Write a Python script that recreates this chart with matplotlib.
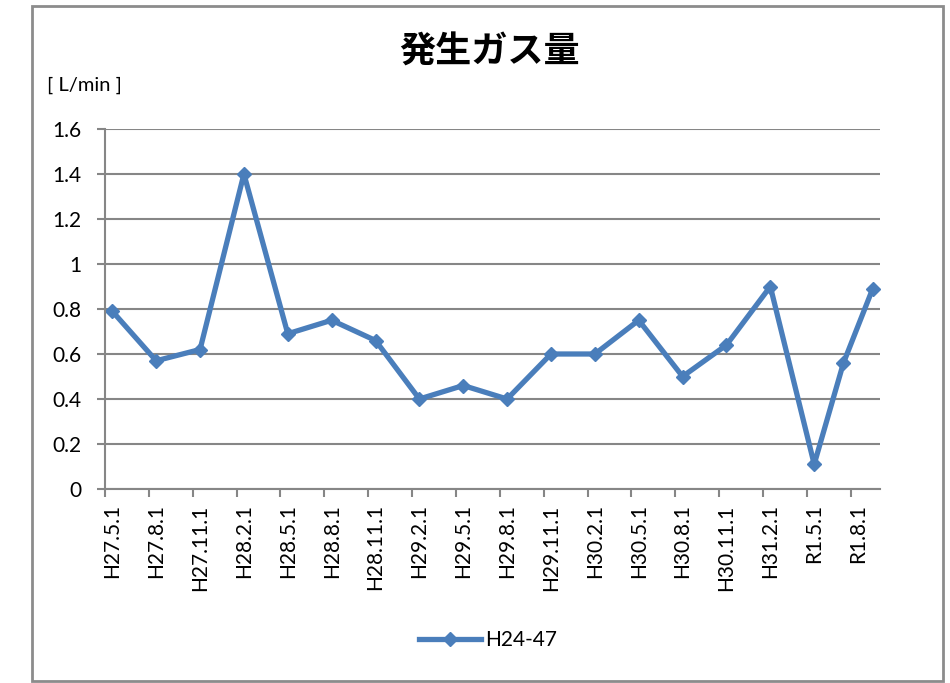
import matplotlib
matplotlib.use("Agg")
import matplotlib.pyplot as plt
from matplotlib.patches import Rectangle

# measurement dates (year-month) and gas volume [L/min]
dates = ["2015-05", "2015-08", "2015-11", "2016-02", "2016-05", "2016-08",
         "2016-11", "2017-02", "2017-05", "2017-08", "2017-11", "2018-02",
         "2018-05", "2018-08", "2018-11", "2019-02", "2019-05", "2019-07",
         "2019-09"]
values = [0.79, 0.57, 0.62, 1.40, 0.69, 0.75, 0.66, 0.40, 0.46, 0.40,
          0.60, 0.60, 0.75, 0.50, 0.64, 0.90, 0.11, 0.56, 0.89]
tick_labels = ["H27.5.1", "H27.8.1", "H27.11.1", "H28.2.1", "H28.5.1",
               "H28.8.1", "H28.11.1", "H29.2.1", "H29.5.1", "H29.8.1",
               "H29.11.1", "H30.2.1", "H30.5.1", "H30.8.1", "H30.11.1",
               "H31.2.1", "R1.5.1", "R1.8.1"]
series_name = "H24-47"

plt.rcParams['font.family'] = ['Lato', 'DejaVu Sans']

# month index from the first date (Excel style date axis, base unit = month)
def month_index(s):
    y, m = map(int, s.split("-"))
    return (y - 2015) * 12 + (m - 5)

xs = [month_index(d) + 0.5 for d in dates]

fig = plt.figure(figsize=(9.5, 6.83), dpi=100)
ax = fig.add_axes([105/950, 1-489/683, 775/950, 360/683])

grid_c = '#868686'
line_c = '#4a7ebb'

ax.plot(xs, values, color=line_c, lw=3.8, marker='D', ms=7.5,
        label=series_name, solid_joinstyle='round')

ax.set_ylim(0, 1.6)
ax.set_yticks([0, 0.2, 0.4, 0.6, 0.8, 1.0, 1.2, 1.4, 1.6])
ax.set_yticklabels(["0", "0.2", "0.4", "0.6", "0.8", "1", "1.2", "1.4", "1.6"])
ax.set_xlim(0, 53)
ax.set_xticks([3 * i for i in range(len(tick_labels))])
ax.set_xticklabels([])
ax.set_xticks([3 * i + 0.5 for i in range(len(tick_labels))], minor=True)
ax.set_xticklabels(tick_labels, minor=True, rotation=90)
ax.tick_params(axis='x', which='minor', length=0, pad=11, labelsize=15)
ax.tick_params(axis='x', which='major', length=6, width=1.5, color=grid_c)
ax.tick_params(axis='y', length=6, width=1.5, color=grid_c, labelsize=15, pad=11)

ax.grid(axis='y', color=grid_c, lw=1.5)
ax.set_axisbelow(True)
for side in ['top', 'right']:
    ax.spines[side].set_visible(False)
for side in ['left', 'bottom']:
    ax.spines[side].set_color(grid_c)
    ax.spines[side].set_linewidth(1.5)

fig.text(489/950, 1-52/683, "発生ガス量", ha='center', va='center',
         fontsize=26, fontweight='bold', family=['Noto Sans CJK JP', 'DejaVu Sans'])
fig.text(47/950, 1-85/683, "[ L/min ]", ha='left', va='center', fontsize=14.5)

fig.legend(loc='center', bbox_to_anchor=(488/950, 1-640/683), frameon=False,
           fontsize=15, handlelength=3.0, handletextpad=0.2)

fig.patches.append(Rectangle((32/950, 2/683), 911/950, 675/683,
                             transform=fig.transFigure, fill=False,
                             edgecolor='#8c8c8c', lw=2))

fig.savefig("out.png", dpi=100)
